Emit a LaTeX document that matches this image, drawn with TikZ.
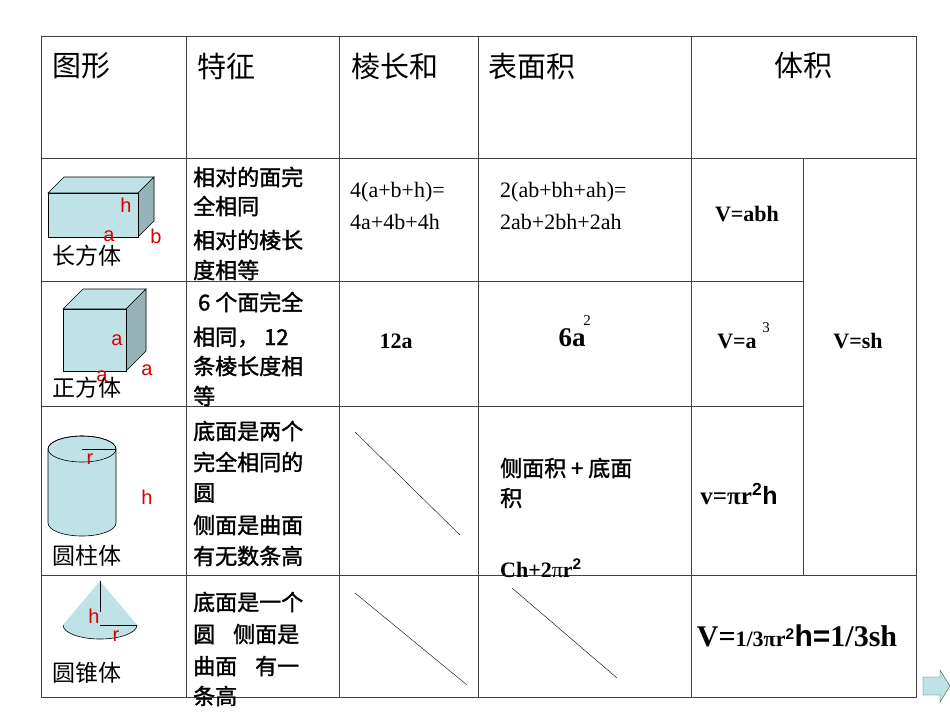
\documentclass[tikz,border=0pt]{standalone}
\usepackage{fontspec}
\setmainfont{Liberation Serif}
\newfontfamily\cjk{Noto Sans CJK SC}
\newfontfamily\cjkb[FakeBold=1.5]{Noto Sans CJK SC}
\newfontfamily\lsans{Liberation Sans}
\definecolor{shp}{RGB}{190,226,230}
\definecolor{shpd}{RGB}{150,180,184}
\begin{document}
\begin{tikzpicture}[x=1pt,y=-1pt,
  grid/.style={draw=black!75,line width=0.6pt},
  hd/.style={anchor=west,inner sep=0,font=\cjk\fontsize{29}{30}\selectfont},
  nm/.style={anchor=west,inner sep=0,font=\cjk\fontsize{23}{24}\selectfont},
  tx/.style={anchor=west,inner sep=0,font=\cjkb\fontsize{22}{24}\selectfont},
  fm/.style={anchor=west,inner sep=0,font=\fontsize{22}{24}\selectfont},
  bf/.style={inner sep=0,font=\bfseries\fontsize{22}{24}\selectfont},
  lb/.style={inner sep=0,text=red!85!black,font=\lsans\fontsize{20}{22}\selectfont},
  solid3/.style={fill=shp,draw=black,line width=0.6pt}]
\useasboundingbox (0,0) rectangle (950,713);
\fill[white] (0,0) rectangle (950,713);
% grid
\draw[grid,line width=1pt] (41,36) rectangle (916,697);
\foreach \x in {186,339,478,691} \draw[grid] (\x,36) -- (\x,697);
\draw[grid] (41,158) -- (916,158);
\draw[grid] (41,281) -- (803,281);
\draw[grid] (41,406) -- (803,406);
\draw[grid] (41,575) -- (916,575);
\draw[grid] (803,158) -- (803,575);
% diagonals
\coordinate (d1a) at (355,432); \coordinate (d1b) at (460,535);
\coordinate (d2a) at (355,593); \coordinate (d2b) at (467,685);
\coordinate (d3a) at (512,588); \coordinate (d3b) at (617,678);
\draw (d1a) -- (d1b); \draw (d2a) -- (d2b); \draw (d3a) -- (d3b);
% headers
\node[hd] (h1) at (52,66) {图形};
\node[hd] (h2) at (197,66) {特征};
\node[hd] (h3) at (351,66) {棱长和};
\node[hd] (h4) at (488,66) {表面积};
\node[hd,anchor=center] (h5) at (803,66) {体积};
% cuboid
\filldraw[solid3] (48,193) -- (64,177) -- (154,177) -- (138,193) -- cycle;
\filldraw[solid3,fill=shpd] (138,193) -- (154,177) -- (154,221) -- (138,237) -- cycle;
\filldraw[solid3] (48,193) rectangle (138,237);
\node[lb] (ch) at (126,205) {h};
\node[lb] (ca) at (109,236) {a};
\node[lb] (cb) at (156,236) {b};
\node[nm] (n1) at (52,256) {长方体};
% cube
\filldraw[solid3] (63,309) -- (83,289) -- (146,289) -- (126,309) -- cycle;
\filldraw[solid3,fill=shpd] (126,309) -- (146,289) -- (146,351) -- (126,371) -- cycle;
\filldraw[solid3] (63,309) rectangle (126,371);
\node[lb] (qa1) at (117,340) {a};
\node[lb] (qa2) at (147,370) {a};
\node[lb] (qa3) at (102,376) {a};
\node[nm] (n2) at (52,388) {正方体};
% cylinder
\filldraw[solid3] (48,449) -- (48,523) arc[start angle=180,end angle=0,x radius=34,y radius=13] -- (116,449) arc[start angle=360,end angle=180,x radius=34,y radius=13] -- cycle;
\draw[line width=0.6pt] (82,449) ellipse[x radius=34,y radius=13];
\draw (82,449) -- (116,449);
\node[lb] (yr) at (90,459) {r};
\node[lb] (yh) at (147,497) {h};
\node[nm] (n3) at (52,556) {圆柱体};
% cone
\fill[shp] (100,581) -- (63,625) arc[start angle=180,end angle=0,x radius=37,y radius=14] -- cycle;
\draw[line width=0.6pt] (63,625) arc[start angle=180,end angle=0,x radius=37,y radius=14];
\draw (100,581) -- (100,612);
\draw (100,625) -- (137,625);
\node[lb] (kh) at (94,616) {h};
\node[lb] (kr) at (116,636) {r};
\node[nm] (n4) at (52,673) {圆锥体};
% features
\node[tx] at (193,177) {相对的面完};
\node[tx] at (193,206) {全相同};
\node[tx] at (193,240) {相对的棱长};
\node[tx] at (193,270) {度相等};
\node[tx] at (193,302) {\ 6 个面完全};
\node[tx] at (193,337) {相同， 12};
\node[tx] at (193,366) {条棱长度相};
\node[tx] at (193,396) {等};
\node[tx] at (193,431) {底面是两个};
\node[tx] at (193,462) {完全相同的};
\node[tx] at (193,493) {圆};
\node[tx] at (193,525) {侧面是曲面};
\node[tx] at (193,556) {有无数条高};
\node[tx] at (193,602) {底面是一个};
\node[tx] at (193,634) {圆\hspace{18pt}侧面是};
\node[tx] at (193,666) {曲面\hspace{18pt}有一};
\node[tx] at (193,696) {条高};
% edge sums
\node[fm] at (350,192) {4(a+b+h)=};
\node[fm] at (350,222) {4a+4b+4h};
\node[bf] at (396,341) {12a};
% surface
\node[fm] at (500,192) {2(ab+bh+ah)=};
\node[fm] at (500,222) {2ab+2bh+2ah};
\node[bf,font=\bfseries\fontsize{27}{28}\selectfont] at (572,338) {6a};
\node[inner sep=0,font=\fontsize{15}{16}\selectfont] at (587,321) {2};
\node[tx] at (500,468) {侧面积 + 底面};
\node[tx] at (500,498) {积};
\node[bf,anchor=west] at (500,568) {Ch+2\textmd{π}r\textsuperscript{\lsans 2}};
% volume
\node[bf] at (747,214) {V=abh};
\node[bf] at (737,341) {V=a};
\node[inner sep=0,font=\fontsize{15}{16}\selectfont] at (766,328) {3};
\node[bf] at (858,341) {V=sh};
\node[bf,font=\bfseries\fontsize{25}{26}\selectfont] at (739,494) {v=πr\textsuperscript{\lsans 2}{\lsans h}};
\node[inner sep=0,font=\bfseries\fontsize{30}{32}\selectfont] at (797,636) {V={\fontsize{22}{24}\selectfont 1/3πr\textsuperscript{\lsans 2}}{\lsans h=}1/3sh};
% arrow
\draw[fill=shp,draw=black!70] (923,677) -- (940,677) -- (940,670) -- (950,686) -- (940,702) -- (940,695) -- (923,695) -- cycle;
\end{tikzpicture}
\end{document}
